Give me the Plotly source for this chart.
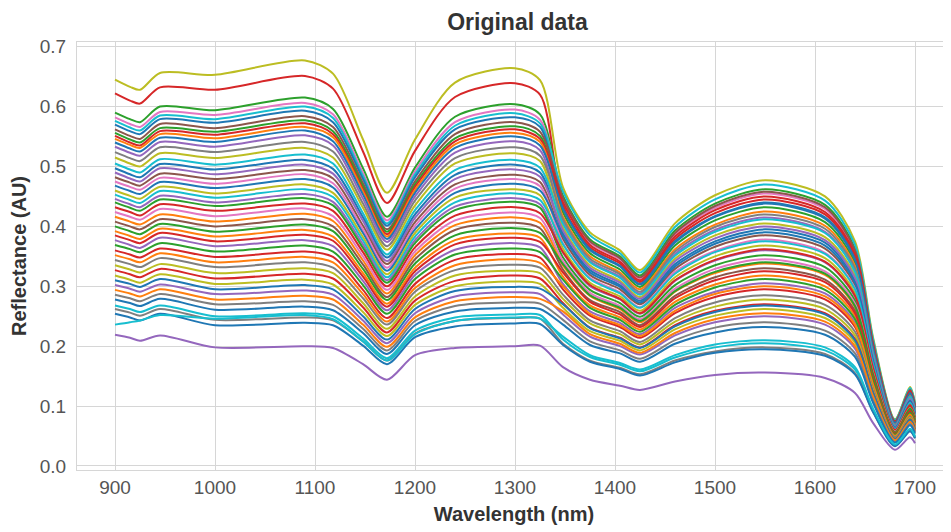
import plotly.graph_objects as go

# Wavelengths (nm) at which each spectrum is read
wavelength = [900, 915, 925, 945, 1000, 1090, 1118, 1148, 1172, 1200, 1240, 1300, 1325,
              1348, 1375, 1405, 1425, 1460, 1500, 1550, 1610, 1640, 1658, 1680, 1695, 1700]

# Reflectance values (thousandths of AU), one list per sample spectrum
s01 = [645,633,628,656,653,677,655,545,456,545,640,664,644, 465,390,360,327,405,452,477,450,375,215,78,132,105]
s02 = [622,610,605,632,628,651,630,525,439,526,616,639,620, 435,365,338,307,379,422,445,420,350,201,73,124,98]
s03 = [590,579,574,600,594,615,596,497,416,498,583,604,587, 451,378,350,318,393,438,462,436,363,208,76,128,102]
s04 = [582,571,566,591,586,606,587,489,410,492,574,595,578, 444,373,345,313,387,431,455,429,358,205,75,126,100]
s05 = [576,565,560,585,579,600,581,484,405,487,568,589,572, 458,385,355,323,399,445,470,443,369,212,77,130,104]
s06 = [570,559,554,579,573,593,574,479,401,482,562,582,566, 430,362,334,304,375,417,440,415,346,198,72,122,97]
s07 = [562,551,546,571,564,584,566,472,395,475,554,574,558, 447,375,347,315,389,434,458,432,360,206,75,127,101]
s08 = [556,545,540,564,558,577,559,467,391,470,547,567,551, 423,355,328,299,368,410,432,407,339,195,71,120,96]
s09 = [551,540,535,559,553,572,554,462,387,466,542,562,546, 440,369,341,310,383,427,450,424,354,203,74,125,99]
s10 = [546,536,531,554,547,566,549,458,383,461,537,556,541, 416,350,323,295,362,403,425,401,334,192,70,118,94]
s11 = [540,530,525,548,541,560,542,453,379,456,531,550,535, 429,360,333,303,373,416,438,413,344,198,72,122,97]
s12 = [533,523,518,541,533,552,535,446,374,450,523,542,527, 407,342,316,288,354,394,415,391,326,187,68,116,92]
s13 = [524,514,509,532,524,541,525,438,367,443,514,532,518, 412,346,320,291,358,399,420,396,330,190,69,117,93]
s14 = [515,505,500,522,514,531,515,431,361,435,505,522,509, 398,335,309,282,346,385,405,382,318,183,66,113,90]
s15 = [505,495,490,512,503,520,505,422,353,427,494,511,498, 404,340,314,286,351,391,412,389,324,186,67,115,91]
s16 = [497,487,482,504,495,511,496,415,348,420,486,503,490, 388,327,302,276,337,375,395,373,310,178,65,110,88]
s17 = [490,480,475,497,487,503,488,409,342,414,479,495,483, 393,331,306,279,342,380,400,377,314,181,66,112,89]
s18 = [482,473,468,488,479,494,480,401,337,407,470,486,474, 379,319,295,270,329,366,385,363,302,174,63,108,86]
s19 = [475,466,461,481,471,487,472,395,331,401,463,479,467, 372,314,290,265,324,359,378,356,297,171,62,106,84]
s20 = [468,459,454,474,464,479,465,389,326,395,456,471,460, 384,323,299,273,333,371,390,368,306,176,64,109,87]
s21 = [460,451,446,466,455,470,456,382,320,389,448,462,452, 363,306,283,259,315,350,368,347,289,166,61,104,82]
s22 = [453,444,439,459,448,462,449,376,315,383,440,455,444, 370,312,288,264,321,357,375,354,295,170,62,105,84]
s23 = [446,437,432,451,440,454,441,370,310,377,433,447,437, 356,300,278,254,309,343,360,340,283,163,59,101,80]
s24 = [440,431,426,445,434,447,435,364,306,372,427,441,431, 348,294,272,249,302,335,352,332,276,159,58,99,79]
s25 = [432,424,418,437,426,438,426,357,300,365,418,432,422, 357,302,279,255,310,344,362,341,284,164,60,102,81]
s26 = [424,416,411,429,417,430,417,350,294,358,410,423,414, 342,289,267,245,296,329,345,325,271,156,57,97,77]
s27 = [416,408,403,420,408,421,409,343,288,352,402,415,406, 335,284,262,240,291,322,338,319,265,153,56,96,76]
s28 = [408,400,395,412,400,412,400,336,282,345,394,406,397, 328,277,257,235,284,315,330,311,259,150,55,94,74]
s29 = [400,392,387,404,391,403,392,329,277,338,385,397,389, 337,285,264,242,292,324,340,321,267,154,56,96,77]
s30 = [392,384,379,396,383,394,383,322,271,331,377,388,381, 316,268,248,228,274,303,318,300,250,144,53,90,72]
s31 = [385,377,372,389,375,386,376,316,266,325,370,381,374, 323,274,253,232,280,310,325,307,255,147,54,92,73]
s32 = [377,369,364,381,367,377,367,309,260,319,361,372,365, 304,258,239,220,264,291,305,288,239,138,51,87,69]
s33 = [369,362,357,372,358,368,358,302,254,312,353,363,357, 311,264,244,224,269,298,312,294,245,142,52,89,71]
s34 = [360,353,348,363,349,358,349,294,247,304,344,354,348, 295,251,232,214,255,282,295,278,232,134,49,84,67]
s35 = [352,345,340,355,340,349,340,287,241,297,335,345,339, 300,254,235,217,259,287,300,283,236,136,50,86,68]
s36 = [344,337,332,347,332,340,331,280,236,291,327,336,331, 286,243,225,207,247,273,285,269,224,129,48,82,65]
s37 = [335,328,323,337,322,330,322,272,229,283,318,326,322, 279,238,220,203,241,266,278,262,218,126,46,80,64]
s38 = [327,320,315,329,313,321,313,265,223,276,309,318,313, 272,231,214,198,235,259,270,255,212,123,45,78,62]
s39 = [318,311,306,320,304,311,303,257,217,269,300,308,304, 264,225,209,193,228,251,262,247,206,119,44,76,60]
s40 = [310,304,299,312,295,302,295,250,211,262,292,299,296, 270,230,213,197,233,257,268,253,210,122,45,77,61]
s41 = [302,296,291,303,287,293,286,243,205,255,283,290,287, 253,216,200,186,218,240,250,236,196,114,42,73,58]
s42 = [294,288,283,295,278,284,278,236,199,248,275,282,279, 258,220,204,189,222,245,255,241,200,116,43,74,59]
s43 = [286,280,275,287,270,275,269,229,193,242,267,273,271, 244,208,193,179,210,231,240,226,188,109,40,70,56]
s44 = [278,272,267,279,261,266,260,222,187,235,258,264,262, 236,202,188,174,204,223,232,219,182,106,39,68,54]
s45 = [268,262,257,268,250,255,250,213,180,226,248,253,252, 211,182,169,158,181,198,205,193,161,94,35,61,48]
s46 = [262,256,251,262,244,248,243,208,176,221,242,247,246, 204,176,164,153,176,191,198,187,155,91,34,59,47]
s47 = [254,248,243,254,235,239,235,201,170,215,233,238,237, 202,174,162,151,173,189,195,184,153,90,33,58,46]
s48 = [236,240,243,252,246,252,245,208,176,220,242,248,246, 216,185,172,161,185,203,210,198,165,96,36,62,49]
s49 = [219,214,209,218,198,200,197,170,144,185,197,200,201, 165,144,134,127,141,152,156,147,122,72,27,48,38]

spectra = [s01, s02, s03, s04, s05, s06, s07, s08, s09, s10, s11, s12, s13, s14, s15, s16, s17,
           s18, s19, s20, s21, s22, s23, s24, s25, s26, s27, s28, s29, s30, s31, s32, s33, s34,
           s35, s36, s37, s38, s39, s40, s41, s42, s43, s44, s45, s46, s47, s48, s49]

x_ticks = [900, 1000, 1100, 1200, 1300, 1400, 1500, 1600, 1700]
y_ticks = [0.0, 0.1, 0.2, 0.3, 0.4, 0.5, 0.6, 0.7]

# ---- style ----
palette = ["#1f77b4", "#ff7f0e", "#2ca02c", "#d62728", "#9467bd",
           "#8c564b", "#e377c2", "#7f7f7f", "#bcbd22", "#17becf"]
color_idx = [8, 3, 2, 6, 9, 0, 5, 2, 3, 1, 0, 4, 7, 8, 9, 0, 4, 5, 6, 0, 8, 9, 4, 2, 3,
             6, 1, 5, 2, 1, 3, 4, 2, 3, 1, 7, 8, 3, 8, 0, 4, 1, 7, 0, 9, 7, 0, 9, 4]

fig = go.Figure()
for i, s in enumerate(spectra):
    fig.add_trace(go.Scatter(
        x=wavelength, y=[v / 1000 for v in s], mode="lines",
        line=dict(color=palette[color_idx[i]], width=2, shape="spline", smoothing=0.8),
        showlegend=False, hoverinfo="skip"))

FONT = "Liberation Sans, Arial, sans-serif"
# the page body adds an 8px offset, so the figure is sized 8px smaller than the window
fig.update_layout(
    width=943, height=524,
    margin=dict(l=69, r=0, t=34, b=62, autoexpand=False),
    paper_bgcolor="white", plot_bgcolor="white",
    font=dict(family=FONT, size=19, color="#555555"),
    title=dict(text="<b>Original data</b>", x=0.5403, xanchor="center", xref="container",
               y=0.973, yanchor="middle", yref="container",
               font=dict(family=FONT, size=23, color="#333333")),
)
fig.update_xaxes(
    range=[862, 1736], tickvals=x_ticks, ticktext=[str(t) for t in x_ticks],
    showgrid=True, gridcolor="#d6d6d6", gridwidth=1, zeroline=False,
    showline=True, linecolor="#d6d6d6", linewidth=1, mirror=True,
    ticks="", ticklen=0,
    tickfont=dict(size=19, color="#555555"), automargin=False,
    title=dict(text="<b>Wavelength (nm)</b>", font=dict(size=20, color="#333333"), standoff=10),
)
fig.update_yaxes(
    range=[-0.0067, 0.7078], tickvals=y_ticks, ticktext=[f"{t:.1f}" for t in y_ticks],
    showgrid=True, gridcolor="#d6d6d6", gridwidth=1, zeroline=False,
    showline=True, linecolor="#d6d6d6", linewidth=1, mirror=True,
    ticks="outside", ticklen=6, tickcolor="rgba(0,0,0,0)",
    tickfont=dict(size=19, color="#555555"), automargin=False,
    title=dict(text="<b>Reflectance (AU)</b>", font=dict(size=20, color="#333333"), standoff=8),
)

fig.write_html("out.html")
